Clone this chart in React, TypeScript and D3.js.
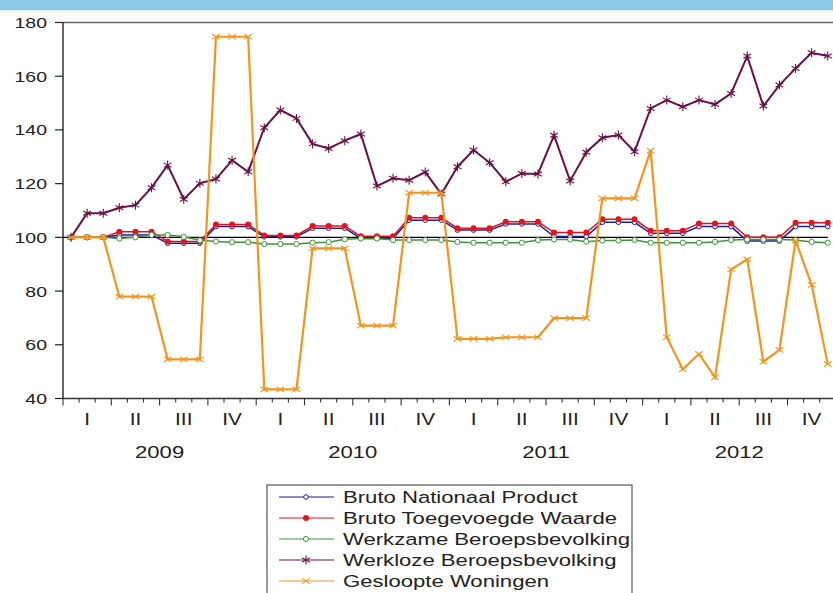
import React from 'react';
import * as d3 from 'd3';

const years = [2009, 2010, 2011, 2012];
const quarters = ['I', 'II', 'III', 'IV'];
const yTicks = [40, 60, 80, 100, 120, 140, 160, 180];

// monthly index values, Jan 2009 .. Dec 2012
const bnp = [
  100, 100, 100, 100.9, 100.9, 100.9, 97.8, 97.8, 97.8, 104, 104, 104,
  100.2, 100.2, 100.2, 103.4, 103.4, 103.4, 99.6, 99.6, 99.6, 106.4, 106.4, 106.4,
  102.7, 102.7, 102.7, 105, 105, 105, 100.3, 100.3, 100.3, 105.6, 105.6, 105.6,
  101.5, 101.5, 101.5, 104, 104, 104, 98.6, 98.6, 98.6, 104, 104, 104,
];
const btw = [
  100, 100, 100, 102.1, 102.1, 102.1, 98.5, 98.5, 98.5, 104.8, 104.8, 104.8,
  100.7, 100.7, 100.7, 104.2, 104.2, 104.2, 100.4, 100.4, 100.4, 107.3, 107.3, 107.3,
  103.4, 103.4, 103.4, 105.8, 105.8, 105.8, 101.8, 101.8, 101.8, 106.7, 106.7, 106.7,
  102.5, 102.5, 102.5, 105.2, 105.2, 105.2, 100, 100, 100, 105.4, 105.4, 105.4,
];
const werkzaam = [
  100, 100, 100, 99.6, 100, 100.9, 100.9, 100.2, 98.9, 98.5, 98.2, 98.2,
  97.5, 97.5, 97.5, 98, 98.2, 99.3, 99.6, 99.6, 99, 99, 99, 99,
  98.3, 98, 98, 98, 98, 99, 99.2, 99.2, 98.4, 98.8, 98.8, 99,
  98, 98, 98, 98, 98.3, 99, 99.2, 99.2, 99.2, 99, 98.3, 98,
];
const werkloos = [
  100, 109, 109, 111, 112, 118.5, 126.9, 114.2, 120.1, 121.7, 128.7, 124.4,
  140.8, 147.4, 144.3, 134.8, 133.1, 136, 138.5, 119.1, 122, 121.3, 124.3, 116.1,
  126.3, 132.5, 127.8, 120.7, 123.8, 123.6, 138, 121, 131.7, 137.1, 138.1, 131.9,
  148, 151.1, 148.6, 151.1, 149.5, 153.6, 167.5, 148.9, 156.7, 162.9, 168.7, 167.5,
];
const gesloopt = [
  100, 100, 100, 77.9, 77.9, 77.9, 54.6, 54.6, 54.6, 174.7, 174.7, 174.7,
  43.4, 43.4, 43.4, 95.9, 95.9, 95.9, 67.1, 67.1, 67.1, 116.6, 116.6, 116.6,
  62.2, 62.2, 62.2, 62.8, 62.8, 62.8, 69.9, 69.9, 69.9, 114.5, 114.5, 114.5,
  132.3, 62.8, 50.9, 56.6, 47.9, 88.1, 91.8, 53.7, 58.1, 98.8, 82.3, 52.8,
];

const seriesNames = [
  'Bruto Nationaal Product',
  'Bruto Toegevoegde Waarde',
  'Werkzame Beroepsbevolking',
  'Werkloze Beroepsbevolking',
  'Gesloopte Woningen',
];

type Marker = 'open' | 'dot' | 'ring' | 'star' | 'cross';
const series: { name: string; values: number[]; color: string; marker: Marker; width: number }[] = [
  { name: seriesNames[0], values: bnp, color: '#1c1c9c', marker: 'open', width: 1.5 },
  { name: seriesNames[1], values: btw, color: '#e3141b', marker: 'dot', width: 1.5 },
  { name: seriesNames[2], values: werkzaam, color: '#3b963b', marker: 'ring', width: 1.5 },
  { name: seriesNames[3], values: werkloos, color: '#6a1046', marker: 'star', width: 2 },
  { name: seriesNames[4], values: gesloopt, color: '#f0951e', marker: 'cross', width: 2.2 },
];

const W = 833;
const H = 593;
const left = 63;
const monthW = 16.1;
const nMonths = years.length * 12;
const SX = 1.3; // horizontal stretch of the lettering
const font = 'Arial, "Liberation Sans", sans-serif';

const x = d3.scaleLinear().domain([0, nMonths]).range([left, left + monthW * nMonths]);
const y = d3.scaleLinear().domain([40, 180]).range([398.5, 22.5]);

const MarkerShape = ({ m, cx, cy, color }: { m: Marker; cx: number; cy: number; color: string }) => {
  if (m === 'open') return <circle cx={cx} cy={cy} r={2.3} fill="#fff" stroke={color} strokeWidth={1} />;
  if (m === 'dot') return <circle cx={cx} cy={cy} r={3} fill={color} />;
  if (m === 'ring') return <circle cx={cx} cy={cy} r={2.6} fill="#fff" stroke={color} strokeWidth={1} />;
  if (m === 'star') {
    const r = 4.5;
    const a = r * Math.cos(Math.PI / 6);
    const b = r * Math.sin(Math.PI / 6);
    return (
      <path
        d={`M${cx},${cy - r}V${cy + r}M${cx - a},${cy - b}L${cx + a},${cy + b}M${cx - a},${cy + b}L${cx + a},${cy - b}`}
        stroke={color}
        strokeWidth={1.1}
      />
    );
  }
  const r = 3.8;
  return (
    <path
      d={`M${cx - r},${cy - r * 0.7}L${cx + r},${cy + r * 0.7}M${cx - r},${cy + r * 0.7}L${cx + r},${cy - r * 0.7}`}
      stroke={color}
      strokeWidth={1.1}
    />
  );
};

const SText = ({ x: tx, y: ty, size, anchor, sx = SX, children }: any) => (
  <text
    transform={`translate(${tx},${ty}) scale(${sx},1)`}
    fontSize={size}
    textAnchor={anchor}
    fontFamily={font}
    fill="#222"
  >
    {children}
  </text>
);

export default function App() {
  const line = d3
    .line<number>()
    .x((_, i) => x(i + 0.5))
    .y((v) => y(v));

  const monthTicks = d3.range(0, nMonths + 1);
  const plotRight = x(nMonths);

  return (
    <svg width={W} height={H} style={{ position: 'absolute', left: 0, top: 0, background: '#fff' }}>
      {/* header band */}
      <rect x={0} y={0} width={W} height={10} fill="#8cc8e3" />
      <rect x={0} y={10} width={W} height={2} fill="#e4f2f9" />

      {/* frame */}
      <line x1={left} x2={plotRight} y1={y(180)} y2={y(180)} stroke="#666" strokeWidth={1.6} />
      <line x1={left} x2={plotRight} y1={y(40)} y2={y(40)} stroke="#333" strokeWidth={1.3} />
      <line x1={left} x2={left} y1={y(180)} y2={y(40)} stroke="#111" strokeWidth={1.3} />

      {/* y axis */}
      {yTicks.map((t) => (
        <g key={t}>
          <line x1={left - 8} x2={left} y1={y(t)} y2={y(t)} stroke="#222" strokeWidth={1.2} />
          <SText x={47} y={y(t) + 5.5} size={15} anchor="end">
            {t}
          </SText>
        </g>
      ))}

      {/* x axis ticks */}
      {monthTicks.map((m) => (
        <line
          key={m}
          x1={x(m)}
          x2={x(m)}
          y1={y(40)}
          y2={y(40) + (m % 3 === 0 ? 7 : 4)}
          stroke="#333"
          strokeWidth={1.1}
        />
      ))}
      {years.map((yr, yi) =>
        quarters.map((q, qi) => (
          <SText key={`${yr}-${q}`} x={x(yi * 12 + qi * 3 + 1.5)} y={425} size={16} anchor="middle">
            {q}
          </SText>
        ))
      )}
      {years.map((yr, yi) => (
        <SText key={yr} x={x(yi * 12 + 6)} y={458} size={17} anchor="middle">
          {yr}
        </SText>
      ))}

      {/* reference line */}
      <line x1={left} x2={x(nMonths - 0.5)} y1={y(100)} y2={y(100)} stroke="#000" strokeWidth={1.2} />

      {/* series */}
      {series.map((s) => (
        <g key={s.name}>
          <path d={line(s.values) || ''} fill="none" stroke={s.color} strokeWidth={s.width} />
          {s.values.map((v, i) => (
            <MarkerShape key={i} m={s.marker} cx={x(i + 0.5)} cy={y(v)} color={s.color} />
          ))}
        </g>
      ))}

      {/* legend */}
      <rect x={267} y={485} width={365} height={120} fill="#fff" stroke="#555" strokeWidth={1.2} />
      {series.map((s, i) => {
        const ly = 497 + i * 21;
        return (
          <g key={s.name}>
            <line x1={279} x2={334} y1={ly} y2={ly} stroke={s.color} strokeWidth={1.2} />
            <MarkerShape m={s.marker} cx={306} cy={ly} color={s.color} />
            <SText x={343} y={ly + 6} size={16.5} sx={1.34} anchor="start">
              {s.name}
            </SText>
          </g>
        );
      })}
    </svg>
  );
}
